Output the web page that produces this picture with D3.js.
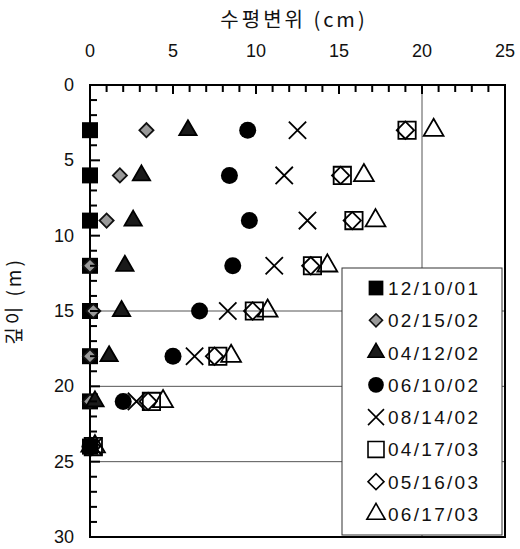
<!DOCTYPE html>
<html>
<head>
<meta charset="utf-8">
<script src="https://cdn.jsdelivr.net/npm/d3@7"></script>
<style>
  body { margin: 0; background: #fff; }
  text { font-family: "Liberation Sans", Arial, sans-serif; fill: #111; }
  .kr { font-family: "Noto Sans CJK KR", "Noto Sans", sans-serif; }
</style>
</head>
<body>
<svg id="chart" width="520" height="549"></svg>
<script>
// depth (m) of each reading
var depths = [3, 6, 9, 12, 15, 18, 21, 24];

// horizontal displacement (cm) per survey date
var seriesNames = ["12/10/01", "02/15/02", "04/12/02", "06/10/02", "08/14/02", "04/17/03", "05/16/03", "06/17/03"];
var d121001 = [0, 0, 0, 0, 0, 0, 0, 0];
var d021502 = [3.4, 1.8, 1.0, 0, 0.2, 0, 0, 0];
var d041202 = [5.9, 3.1, 2.6, 2.1, 1.9, 1.15, 0.3, 0];
var d061002 = [9.5, 8.4, 9.6, 8.6, 6.6, 5.0, 2.0, 0];
var d081402 = [12.5, 11.7, 13.1, 11.1, 8.3, 6.3, 2.8, 0.2];
var d041703 = [19.1, 15.2, 15.9, 13.4, 9.9, 7.7, 3.7, 0.2];
var d051603 = [19.0, 15.1, 15.8, 13.3, 9.8, 7.5, 3.5, 0.1];
var d061703 = [20.7, 16.5, 17.2, 14.3, 10.7, 8.5, 4.4, 0.3];

var xTicks = [0, 5, 10, 15, 20, 25];
var yTicks = [0, 5, 10, 15, 20, 25, 30];
var xGrid = [20];
var yGrid = [15, 20, 25];

var svg = d3.select("#chart");
var pL = 90, pT = 85, pR = 505, pB = 537;

var x = d3.scaleLinear().domain([0, 25]).range([pL, pR]);
var y = d3.scaleLinear().domain([0, 30]).range([pT, pB]);

// custom X marker
var symbolX = {
  draw: function(ctx, size) {
    var r = Math.sqrt(size) / 2;
    ctx.moveTo(-r, -r); ctx.lineTo(r, r);
    ctx.moveTo(r, -r); ctx.lineTo(-r, r);
  }
};

var styles = [
  { data: d121001, type: d3.symbolSquare, size: 256, fill: "#000", stroke: "none", rot: 0 },
  { data: d021502, type: d3.symbolSquare, size: 100, fill: "#999", stroke: "#111", rot: 45 },
  { data: d041202, type: d3.symbolTriangle, size: 130, fill: "#1a1a1a", stroke: "#000", rot: 0 },
  { data: d061002, type: d3.symbolCircle, size: 227, fill: "#000", stroke: "none", rot: 0 },
  { data: d081402, type: symbolX, size: 300, fill: "none", stroke: "#000", rot: 0 },
  { data: d041703, type: d3.symbolSquare, size: 300, fill: "none", stroke: "#000", rot: 0 },
  { data: d051603, type: d3.symbolSquare, size: 150, fill: "none", stroke: "#000", rot: 45 },
  { data: d061703, type: d3.symbolTriangle, size: 170, fill: "none", stroke: "#000", rot: 0 }
];

// grid lines
svg.selectAll(".xgrid").data(xGrid).enter().append("line")
  .attr("x1", function(d) { return x(d); }).attr("x2", function(d) { return x(d); })
  .attr("y1", pT).attr("y2", pB)
  .attr("stroke", "#555").attr("stroke-width", 1);
svg.selectAll(".ygrid").data(yGrid).enter().append("line")
  .attr("x1", pL).attr("x2", pR)
  .attr("y1", function(d) { return y(d); }).attr("y2", function(d) { return y(d); })
  .attr("stroke", "#555").attr("stroke-width", 1);

// frame
svg.append("rect").attr("x", pL).attr("y", pT)
  .attr("width", pR - pL).attr("height", pB - pT)
  .attr("fill", "none").attr("stroke", "#000").attr("stroke-width", 2);

// tick labels
svg.selectAll(".xlab").data(xTicks).enter().append("text")
  .attr("x", function(d) { return x(d); }).attr("y", 57)
  .attr("text-anchor", "middle").attr("font-size", 18)
  .text(function(d) { return d; });
svg.selectAll(".ylab").data(yTicks).enter().append("text")
  .attr("x", 74).attr("y", function(d) { return y(d) + 6; })
  .attr("text-anchor", "end").attr("font-size", 18)
  .text(function(d) { return d; });

// axis titles
svg.append("text").attr("class", "kr")
  .attr("x", 294).attr("y", 27).attr("text-anchor", "middle").attr("font-size", 20)
  .attr("letter-spacing", 3)
  .text("수평변위 (cm)");
svg.append("text").attr("class", "kr")
  .attr("transform", "translate(21,301) rotate(-90)")
  .attr("text-anchor", "middle").attr("font-size", 19)
  .attr("letter-spacing", 3)
  .text("깊이 (m)");

// markers
styles.forEach(function(s) {
  var sym = d3.symbol().type(s.type).size(s.size);
  svg.append("g").selectAll("path").data(s.data).enter().append("path")
    .attr("d", sym)
    .attr("transform", function(d, i) {
      return "translate(" + x(d) + "," + y(depths[i]) + ") rotate(" + s.rot + ")";
    })
    .attr("fill", s.fill).attr("stroke", s.stroke)
    .attr("stroke-width", 1.8);
});

// ticks pointing into the plot, 1 cm / 1 m apart, drawn on top
var tickG = svg.append("g").attr("stroke", "#000").attr("stroke-width", 2.2);
tickG.selectAll(".xt").data(x.ticks(25)).enter().append("rect")
  .attr("x", function(d) { return x(d) - 1; }).attr("y", pT)
  .attr("width", 2).attr("height", function(d) { return d % 5 === 0 ? 9 : 7; })
  .attr("fill", "#000").attr("stroke", "none");
tickG.selectAll(".yt").data(y.ticks(30)).enter().append("rect")
  .attr("x", pL).attr("y", function(d) { return y(d) - 1; })
  .attr("width", function(d) { return d % 5 === 0 ? 10 : 7; }).attr("height", 2)
  .attr("fill", "#000").attr("stroke", "none");

// legend
var lg = svg.append("g");
lg.append("rect").attr("x", 342).attr("y", 268).attr("width", 160).attr("height", 267)
  .attr("fill", "#fff").attr("stroke", "#333").attr("stroke-width", 1);
var row = d3.scaleLinear().domain([0, 7]).range([288, 514]);
seriesNames.forEach(function(name, i) {
  var s = styles[i];
  var sym = d3.symbol().type(s.type).size(s.size * 0.85);
  lg.append("path").attr("d", sym)
    .attr("transform", "translate(376," + row(i) + ") rotate(" + s.rot + ")")
    .attr("fill", s.fill).attr("stroke", s.stroke).attr("stroke-width", 1.6);
  lg.append("text").attr("x", 388).attr("y", row(i) + 7)
    .attr("font-size", 19).attr("textLength", 90).attr("lengthAdjust", "spacing")
    .text(name);
});
</script>
</body>
</html>
